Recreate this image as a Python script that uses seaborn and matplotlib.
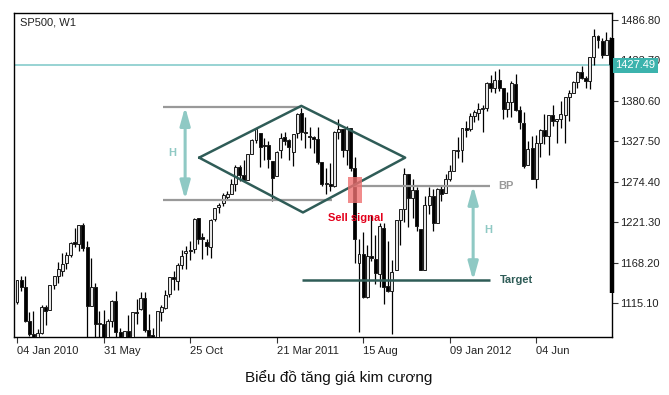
import numpy as np
import pandas as pd
import seaborn as sns
import matplotlib.pyplot as plt
import matplotlib.patches as patches
import matplotlib.transforms as mtransforms

# weekly SP500 candles, Jan 2010 .. Oct 2012
opens = [
    1116.6, 1145.0, 1136.0, 1092.0, 1074.0, 1066.0, 1075.5, 1110.0, 1105.4, 1138.4,
    1149.9, 1157.3, 1167.7, 1178.4, 1194.9, 1192.1, 1217.0, 1188.6, 1111.0, 1136.0,
    1087.3, 1087.3, 1065.0, 1091.2, 1117.7, 1077.5, 1022.6, 1078.0, 1065.0, 1102.9,
    1107.5, 1121.1, 1079.0, 1073.0, 1062.0, 1103.0, 1109.1, 1126.6, 1148.6, 1143.5,
    1165.3, 1180.5, 1184.7, 1185.7, 1226.2, 1201.7, 1194.8, 1189.1, 1225.0, 1241.8,
    1246.0, 1254.7,
    1257.6, 1271.0, 1293.2, 1283.3, 1276.5, 1311.0, 1329.2, 1338.9, 1321.6, 1322.7,
    1301.2, 1281.7, 1315.5, 1332.7, 1329.0, 1313.0, 1337.9, 1365.2, 1340.2, 1334.4,
    1333.1, 1331.1, 1300.3, 1271.3, 1271.5, 1268.4, 1339.6, 1343.3, 1315.9, 1344.3,
    1292.6, 1168.0, 1179.2, 1123.2, 1176.7, 1173.0, 1153.5, 1214.0, 1136.9, 1131.2,
    1158.2, 1224.5, 1238.7, 1284.6, 1253.2, 1263.9, 1212.0, 1158.7, 1244.3, 1255.1,
    1219.7, 1265.0,
    1258.9, 1277.8, 1289.1, 1315.3, 1316.2, 1344.3, 1343.1, 1361.2, 1365.2, 1369.6,
    1370.8, 1404.2, 1397.1, 1408.5, 1397.5, 1370.3, 1378.5, 1403.3, 1368.8, 1351.9,
    1295.7, 1318.9, 1278.3, 1325.7, 1342.4, 1334.0, 1362.3, 1354.7, 1356.5, 1362.3,
    1385.9, 1391.0, 1405.9, 1418.1, 1411.1, 1406.5, 1437.9, 1465.4, 1459.8, 1440.9,
    1460.9,
]
highs = [
    1145.4, 1150.4, 1150.5, 1103.7, 1104.7, 1081.2, 1112.4, 1112.4, 1139.0, 1150.2,
    1169.2, 1180.7, 1181.4, 1194.7, 1213.9, 1217.3, 1219.8, 1197.0, 1173.6, 1141.8,
    1104.0, 1105.7, 1094.0, 1119.1, 1131.2, 1082.6, 1078.2, 1099.1, 1103.7, 1120.9,
    1129.2, 1129.2, 1100.1, 1081.6, 1105.1, 1112.4, 1131.5, 1148.9, 1157.2, 1167.7,
    1184.4, 1189.4, 1196.1, 1227.1, 1227.1, 1207.4, 1198.9, 1225.6, 1240.4, 1246.7,
    1259.3, 1262.6,
    1278.2, 1296.1, 1296.1, 1302.7, 1311.0, 1330.8, 1344.1, 1338.9, 1332.3, 1327.7,
    1301.2, 1315.2, 1337.9, 1339.5, 1330.0, 1337.5, 1364.6, 1370.6, 1359.4, 1346.8,
    1334.6, 1346.0, 1300.4, 1292.5, 1298.6, 1341.0, 1356.5, 1343.8, 1347.0, 1344.3,
    1307.4, 1198.6, 1208.5, 1190.7, 1230.7, 1204.4, 1220.1, 1220.4, 1195.9, 1171.4,
    1224.6, 1238.7, 1292.7, 1284.6, 1277.6, 1266.9, 1212.0, 1255.8, 1267.1, 1265.4,
    1265.9, 1269.4,
    1284.6, 1296.8, 1315.5, 1333.5, 1345.3, 1354.3, 1364.2, 1368.9, 1378.0, 1374.8,
    1405.9, 1414.0, 1419.2, 1422.4, 1397.5, 1392.8, 1406.6, 1415.3, 1373.9, 1365.9,
    1328.5, 1334.9, 1335.5, 1343.3, 1363.5, 1362.2, 1374.8, 1357.1, 1380.4, 1386.0,
    1394.2, 1407.1, 1419.2, 1426.7, 1413.5, 1437.9, 1474.5, 1467.1, 1463.5, 1471.0,
    1464.0,
]
lows = [
    1114.2, 1131.4, 1090.2, 1071.6, 1044.5, 1056.1, 1074.2, 1086.0, 1105.4, 1134.0,
    1141.5, 1150.2, 1160.0, 1175.2, 1188.1, 1183.7, 1183.3, 1065.8, 1111.0, 1055.9,
    1040.8, 1061.1, 1042.2, 1083.2, 1071.0, 1010.9, 1018.4, 1064.1, 1056.9, 1088.0,
    1106.2, 1076.6, 1065.9, 1039.7, 1040.9, 1091.1, 1107.4, 1122.8, 1131.9, 1131.9,
    1159.7, 1159.7, 1171.7, 1181.2, 1193.1, 1173.0, 1177.6, 1174.0, 1222.4, 1232.8,
    1242.8, 1251.5,
    1257.6, 1262.4, 1275.0, 1275.1, 1276.5, 1311.0, 1324.6, 1294.3, 1302.6, 1291.8,
    1249.0, 1281.7, 1305.3, 1322.9, 1302.7, 1294.7, 1331.6, 1329.2, 1318.5, 1318.5,
    1311.8, 1298.1, 1268.5, 1258.1, 1262.7, 1267.4, 1331.1, 1306.9, 1295.9, 1287.9,
    1168.1, 1077.0, 1121.1, 1121.1, 1170.6, 1140.1, 1136.2, 1114.2, 1128.9, 1074.8,
    1158.2, 1191.5, 1221.1, 1215.4, 1226.6, 1209.0, 1158.7, 1158.7, 1231.5, 1209.5,
    1219.7, 1248.6,
    1258.9, 1274.7, 1290.2, 1306.1, 1300.5, 1333.0, 1340.7, 1352.3, 1354.9, 1340.0,
    1366.7, 1391.6, 1391.0, 1392.9, 1357.4, 1358.9, 1358.8, 1367.9, 1343.0, 1292.0,
    1295.7, 1277.6, 1266.7, 1306.6, 1324.4, 1309.3, 1348.0, 1325.4, 1345.1, 1325.4,
    1354.6, 1391.0, 1397.6, 1409.2, 1397.0, 1396.6, 1428.0, 1449.9, 1437.3, 1440.9,
    1425.5,
]
closes = [
    1145.0, 1136.0, 1091.8, 1073.9, 1066.2, 1075.5, 1109.2, 1104.5, 1138.7, 1150.0,
    1159.9, 1166.6, 1178.1, 1194.4, 1192.1, 1217.3, 1186.7, 1110.9, 1135.7, 1087.7,
    1089.4, 1064.9, 1091.6, 1117.5, 1076.8, 1022.6, 1078.0, 1064.9, 1102.7, 1101.6,
    1121.6, 1079.3, 1071.7, 1064.6, 1104.5, 1109.6, 1125.6, 1148.7, 1146.2, 1165.2,
    1176.2, 1183.1, 1183.3, 1225.9, 1199.2, 1199.7, 1189.4, 1224.7, 1240.4, 1243.9,
    1256.8, 1257.6,
    1271.5, 1293.2, 1283.4, 1276.3, 1310.9, 1329.2, 1343.0, 1319.9, 1321.2, 1304.3,
    1279.2, 1313.8, 1332.4, 1328.2, 1319.7, 1337.4, 1363.6, 1340.2, 1337.8, 1333.3,
    1331.1, 1300.2, 1271.0, 1271.5, 1268.5, 1339.7, 1343.8, 1316.1, 1345.0, 1292.3,
    1199.4, 1178.8, 1123.5, 1176.8, 1174.0, 1154.2, 1216.0, 1136.4, 1131.4, 1155.5,
    1224.6, 1238.3, 1285.1, 1253.2, 1263.9, 1215.7, 1158.7, 1244.3, 1255.2, 1219.7,
    1265.3, 1257.6,
    1277.8, 1289.1, 1315.4, 1316.3, 1344.9, 1342.6, 1361.2, 1365.7, 1369.6, 1370.9,
    1404.2, 1397.1, 1408.5, 1398.1, 1370.3, 1378.5, 1403.4, 1369.1, 1353.4, 1295.2,
    1317.8, 1278.0, 1325.7, 1342.8, 1335.0, 1362.2, 1354.7, 1356.8, 1362.7, 1386.0,
    1391.0, 1405.9, 1418.2, 1411.1, 1406.6, 1437.9, 1465.8, 1460.2, 1440.7, 1460.9,
    1428.6,
]

x_tick_weeks = [0, 21, 42, 63, 84, 105, 126]
x_tick_labels = ['04 Jan 2010', '31 May', '25 Oct', '21 Mar 2011', '15 Aug',
                 '09 Jan 2012', '04 Jun']
y_ticks = [1115.10, 1168.20, 1221.30, 1274.40, 1327.50, 1380.60, 1433.70, 1486.80]

last_price = 1427.49

# diamond pattern levels (week index, price)
diamond_x = [44.2, 69.0, 94.2, 69.4, 44.2]
diamond_y = [1306.0, 1374.0, 1306.0, 1234.0, 1306.0]
top_level = 1372.8
bottom_level = 1250.9
bp_level = 1269.2
target_level = 1144.7

df = pd.DataFrame({'open': opens, 'high': highs, 'low': lows, 'close': closes})
df['week'] = np.arange(len(df))
df['up'] = df['close'] >= df['open']

sns.set_theme(style='white')
plt.rcParams['font.family'] = ['Liberation Sans', 'DejaVu Sans']

fig = plt.figure(figsize=(6.69, 3.95), dpi=100)
ax = fig.add_axes([14 / 669, 58 / 395, 598 / 669, 324 / 395])

# wicks and bodies
ax.vlines(df['week'], df['low'], df['high'], color='black', lw=0.9, zorder=2)
body_bottom = df[['open', 'close']].min(axis=1)
body_height = (df['close'] - df['open']).abs().clip(lower=0.8)
fills = np.where(df['up'], '#e6e6e6', 'black')
ax.bar(df['week'], body_height, bottom=body_bottom, width=0.72, color=fills,
       edgecolor='#1a1a1a', linewidth=0.7, zorder=3)

teal = '#2f5c57'
light_teal = '#8fc9c4'
gray = '#999999'

# current price line
ax.axhline(last_price, color='#7cc7c7', lw=1.1, zorder=1)

# range lines of the diamond
ax.hlines(top_level, 35.4, 69.0, color=gray, lw=1.6, zorder=4)
ax.hlines(bottom_level, 35.4, 76.5, color=gray, lw=1.6, zorder=4)
ax.hlines(bp_level, 81.5, 114.8, color=gray, lw=1.6, zorder=4)
ax.hlines(target_level, 69.2, 114.8, color=teal, lw=1.8, zorder=4)

diamond = pd.DataFrame({'week': diamond_x, 'price': diamond_y})
sns.lineplot(data=diamond, x='week', y='price', estimator=None, sort=False,
             color=teal, lw=1.8, ax=ax, zorder=5)

# H arrows
for xw, y0, y1 in [(40.8, top_level, bottom_level), (110.7, bp_level, target_level)]:
    ax.annotate('', xy=(xw, y1), xytext=(xw, y0),
                arrowprops=dict(arrowstyle='<|-|>,head_length=0.9,head_width=0.25',
                                color=light_teal, lw=2.2, shrinkA=0, shrinkB=0),
                zorder=5)
ax.text(37.6, 1312, 'H', color=light_teal, fontsize=8, fontweight='bold',
        ha='center', va='center')
ax.text(114.3, 1211, 'H', color=light_teal, fontsize=8, fontweight='bold',
        ha='center', va='center')

# sell signal
ax.add_patch(patches.Rectangle((80.4, 1247), 3.3, 34, facecolor='#ee7070',
                               edgecolor='none', alpha=0.8, zorder=6))
ax.text(82.3, 1227, 'Sell signal', color='#e3001b', fontsize=8,
        fontweight='bold', ha='center', va='center', zorder=7)
ax.text(116.8, bp_level, 'BP', color=gray, fontsize=8, fontweight='bold',
        ha='left', va='center')
ax.text(117.2, target_level, 'Target', color=teal, fontsize=8,
        fontweight='bold', ha='left', va='center')

ax.text(0.01, 0.985, 'SP500, W1', transform=ax.transAxes, fontsize=8,
        color='#222222', ha='left', va='top')

ax.set_xlim(-0.73, 144.4)
ax.set_ylim(1070.4, 1496.0)
ax.set_xticks(x_tick_weeks)
ax.set_xticklabels(x_tick_labels, ha='left')
ax.set_xlabel('')
ax.set_ylabel('')
ax.set_yticks(y_ticks)
ax.set_yticklabels([f'{v:.2f}' for v in y_ticks])
ax.yaxis.tick_right()
ax.tick_params(axis='both', which='both', direction='out', length=4, width=0.8,
               colors='#333333', labelsize=8, pad=1.5, bottom=True, right=True,
               left=False)
ax.tick_params(axis='x', labelcolor='#222222', pad=2.5)
ax.tick_params(axis='y', labelcolor='#222222')
for sp in ax.spines.values():
    sp.set_color('black')
    sp.set_linewidth(1.0)
    sp.set_visible(True)

# thick bar along right edge, as in the source terminal
trans = mtransforms.blended_transform_factory(ax.transAxes, ax.transData)
ax.plot([1.0, 1.0], [1128, 1463], transform=trans, color='black', lw=3.2,
        clip_on=False, zorder=8, solid_capstyle='butt')

# price label box (covers the 1433.70 tick label, as in the terminal)
ax.text(1.006, last_price, f'{last_price:.2f}', transform=trans, color='white',
        fontsize=8, ha='left', va='center', zorder=10,
        bbox=dict(boxstyle='square,pad=0.22', fc='#3cb3ad', ec='none'))

fig.text(0.507, 1 - 378 / 395, 'Biểu đồ tăng giá kim cương', fontsize=11,
         color='#111111', ha='center', va='center')

fig.savefig('out.png', dpi=100, facecolor='white')
